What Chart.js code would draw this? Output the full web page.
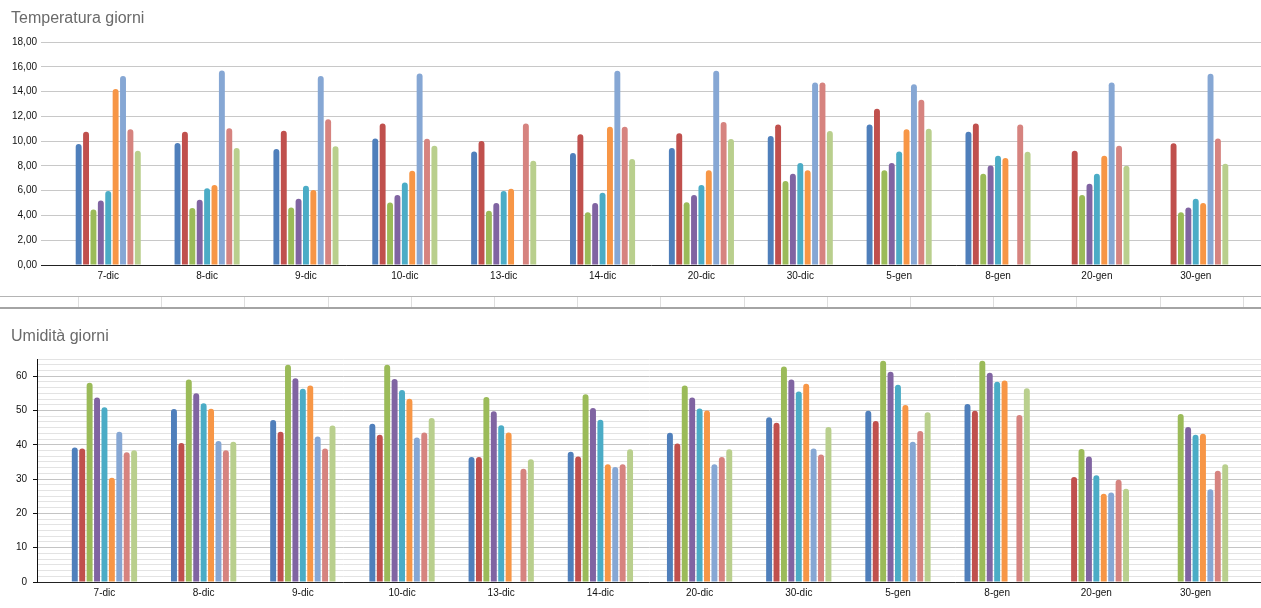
<!DOCTYPE html>
<html>
<head>
<meta charset="utf-8">
<script src="https://cdn.jsdelivr.net/npm/chart.js@4"></script>
<style>
  html, body { margin: 0; padding: 0; background: #fff; }
  body { width: 1261px; height: 608px; position: relative; overflow: hidden; font-family: "Liberation Sans", Arial, sans-serif; }
  .title { position: absolute; font-size: 16px; line-height: 16px; color: #6a6a6a; z-index: 2; white-space: nowrap; }
  .box { position: absolute; }
  .line { position: absolute; }
</style>
</head>
<body>
<div class="title" style="left:11px; top:10px;">Temperatura giorni</div>
<div class="box" style="left:0; top:0; width:1261px; height:292px;"><canvas id="tempChart"></canvas></div>

<div class="line" style="left:0; top:296px; width:1261px; height:1px; background:#b4b4b4;"></div>
<div id="cells"></div>
<div class="line" style="left:0; top:307px; width:1261px; height:2px; background:#a4a4a4;"></div>

<div class="title" style="left:11px; top:328px;">Umidità giorni</div>
<div class="box" style="left:0; top:340px; width:1261px; height:268px;"><canvas id="humChart"></canvas></div>

<script>
// ---- Data ----
const categories = ['7-dic','8-dic','9-dic','10-dic','13-dic','14-dic','20-dic','30-dic','5-gen','8-gen','20-gen','30-gen'];

const seriesColors = ['#4F7FBB','#C0504D','#9BBB59','#8064A2','#4BACC6','#F79646','#86A7D4','#D6837F','#B9CF8D'];

const tempSerie1 = [9.77, 9.85, 9.36, 10.22, 9.17, 9.04, 9.44, 10.41, 11.35, 10.76, null, null];
const tempSerie2 = [10.76, 10.76, 10.84, 11.43, 10.0, 10.55, 10.63, 11.35, 12.62, 11.43, 9.23, 9.82];
const tempSerie3 = [4.47, 4.6, 4.65, 5.05, 4.38, 4.25, 5.06, 6.78, 7.64, 7.37, 5.65, 4.25];
const tempSerie4 = [5.2, 5.27, 5.35, 5.65, 5.0, 5.0, 5.65, 7.37, 8.23, 8.04, 6.56, 4.65];
const tempSerie5 = [5.97, 6.19, 6.4, 6.65, 5.97, 5.84, 6.46, 8.23, 9.17, 8.82, 7.37, 5.35];
const tempSerie6 = [14.2, 6.46, 6.05, 7.6, 6.16, 11.16, 7.64, 7.64, 10.95, 8.64, 8.82, 5.0];
const tempSerie7 = [15.25, 15.7, 15.25, 15.45, null, 15.68, 15.68, 14.74, 14.58, null, 14.74, 15.44];
const tempSerie8 = [10.95, 11.03, 11.76, 10.2, 11.43, 11.16, 11.54, 14.74, 13.34, 11.35, 9.63, 10.22];
const tempSerie9 = [9.23, 9.44, 9.58, 9.63, 8.42, 8.55, 10.17, 10.82, 11.0, 9.15, 8.02, 8.18];

const humSerie1 = [39.2, 50.4, 47.2, 46.1, 36.4, 38.0, 43.5, 48.0, 49.9, 51.9, null, null];
const humSerie2 = [38.9, 40.5, 43.8, 42.9, 36.4, 36.6, 40.4, 46.4, 46.9, 49.9, 30.6, null];
const humSerie3 = [58.1, 59.0, 63.3, 63.3, 53.9, 54.7, 57.3, 62.8, 64.5, 64.5, 38.8, 49.0];
const humSerie4 = [53.8, 55.0, 59.4, 59.2, 49.8, 50.7, 53.8, 59.0, 61.3, 61.0, 36.6, 45.2];
const humSerie5 = [50.9, 52.1, 56.3, 56.0, 45.7, 47.3, 50.6, 55.5, 57.5, 58.4, 31.1, 42.9];
const humSerie6 = [30.4, 50.5, 57.3, 53.4, 43.6, 34.3, 50.0, 57.8, 51.6, 58.7, 25.7, 43.2];
const humSerie7 = [43.8, 41.1, 42.4, 42.1, null, 33.5, 34.3, 38.9, 40.9, null, 26.1, 27.0];
const humSerie8 = [37.8, 38.4, 38.9, 43.6, 33.0, 34.3, 36.4, 37.2, 44.0, 48.7, 29.8, 32.4];
const humSerie9 = [38.4, 40.9, 45.6, 47.8, 35.8, 38.7, 38.7, 45.2, 49.5, 56.5, 27.2, 34.3];

const tempSeries = [tempSerie1, tempSerie2, tempSerie3, tempSerie4, tempSerie5, tempSerie6, tempSerie7, tempSerie8, tempSerie9];
const humSeries = [humSerie1, humSerie2, humSerie3, humSerie4, humSerie5, humSerie6, humSerie7, humSerie8, humSerie9];

const tempTicks = [0, 2, 4, 6, 8, 10, 12, 14, 16, 18];

// ---- spreadsheet cell separators (decoration) ----
(function () {
  const host = document.getElementById('cells');
  for (let k = 0; k < 15; k++) {
    const d = document.createElement('div');
    d.className = 'line';
    d.style.cssText = 'left:' + Math.round(78 + 83.2 * k) + 'px; top:297px; width:1px; height:10px; background:#dedede;';
    host.appendChild(d);
  }
})();

Chart.defaults.font.family = '"Liberation Sans", Arial, sans-serif';
Chart.defaults.color = '#000';

function makeDatasets(seriesList) {
  return seriesList.map((vals, s) => ({
    data: categories.map((c, i) => ({ x: i, y: vals[i] })),
    backgroundColor: seriesColors[s],
    borderWidth: 0,
    borderRadius: 3,
    borderSkipped: 'start',
    categoryPercentage: 0.673,
    barPercentage: 0.8
  }));
}

function xScale(axisHeight) {
  return {
    type: 'linear',
    offset: false,
    min: -0.68,
    max: 11.66,
    afterBuildTicks: (s) => { s.ticks = categories.map((c, i) => ({ value: i })); },
    afterFit: (s) => { s.height = axisHeight; },
    grid: { display: false, drawTicks: false, offset: false },
    border: { display: true, color: '#222', width: 1 },
    ticks: {
      autoSkip: false,
      maxRotation: 0,
      padding: 5,
      font: { size: 10 },
      color: '#111',
      callback: (v) => categories[Math.round(v)] ?? ''
    }
  };
}

new Chart(document.getElementById('tempChart'), {
  type: 'bar',
  data: { datasets: makeDatasets(tempSeries) },
  options: {
    responsive: true,
    maintainAspectRatio: false,
    animation: false,
    layout: { padding: { top: 42, left: 0, right: 0, bottom: 0 } },
    plugins: { legend: { display: false }, tooltip: { enabled: false }, title: { display: false } },
    scales: {
      x: xScale(27),
      y: {
        min: 0,
        max: 18,
        afterBuildTicks: (s) => { s.ticks = tempTicks.map(v => ({ value: v })); },
        afterFit: (s) => { s.width = 41; },
        border: { display: false },
        grid: {
          drawTicks: false,
          color: (ctx) => (ctx.tick && ctx.tick.value === 0) ? 'rgba(0,0,0,0)' : '#c8c8c8',
          lineWidth: 1
        },
        ticks: {
          padding: 4,
          font: { size: 10 },
          color: '#111',
          callback: (v) => Number(v).toFixed(2).replace('.', ',')
        }
      }
    }
  }
});

const isMajor = (v) => Math.abs(v - Math.round(v / 10) * 10) < 1e-6 && v < 64;

new Chart(document.getElementById('humChart'), {
  type: 'bar',
  data: { datasets: makeDatasets(humSeries) },
  options: {
    responsive: true,
    maintainAspectRatio: false,
    animation: false,
    layout: { padding: { top: 19, left: 0, right: 0, bottom: 0 } },
    plugins: { legend: { display: false }, tooltip: { enabled: false }, title: { display: false } },
    scales: {
      x: xScale(26),
      y: {
        min: 0,
        max: 65,
        afterFit: (s) => { s.width = 37; },
        border: { display: true, color: '#111', width: 1 },
        grid: {
          drawTicks: true,
          tickLength: 4,
          tickColor: (ctx) => (ctx.tick && isMajor(ctx.tick.value)) ? '#111' : 'rgba(0,0,0,0)',
          color: (ctx) => {
            if (!ctx.tick) return '#e3e3e3';
            const v = ctx.tick.value;
            if (Math.abs(v) < 1e-6) return 'rgba(0,0,0,0)';
            return isMajor(v) ? '#c4c4c4' : '#e3e3e3';
          },
          lineWidth: 1
        },
        ticks: {
          stepSize: 10 / 6,
          autoSkip: false,
          padding: 6,
          font: { size: 10 },
          color: '#111',
          callback: (v) => isMajor(v) ? String(Math.round(v)) : ''
        }
      }
    }
  }
});
</script>
</body>
</html>
